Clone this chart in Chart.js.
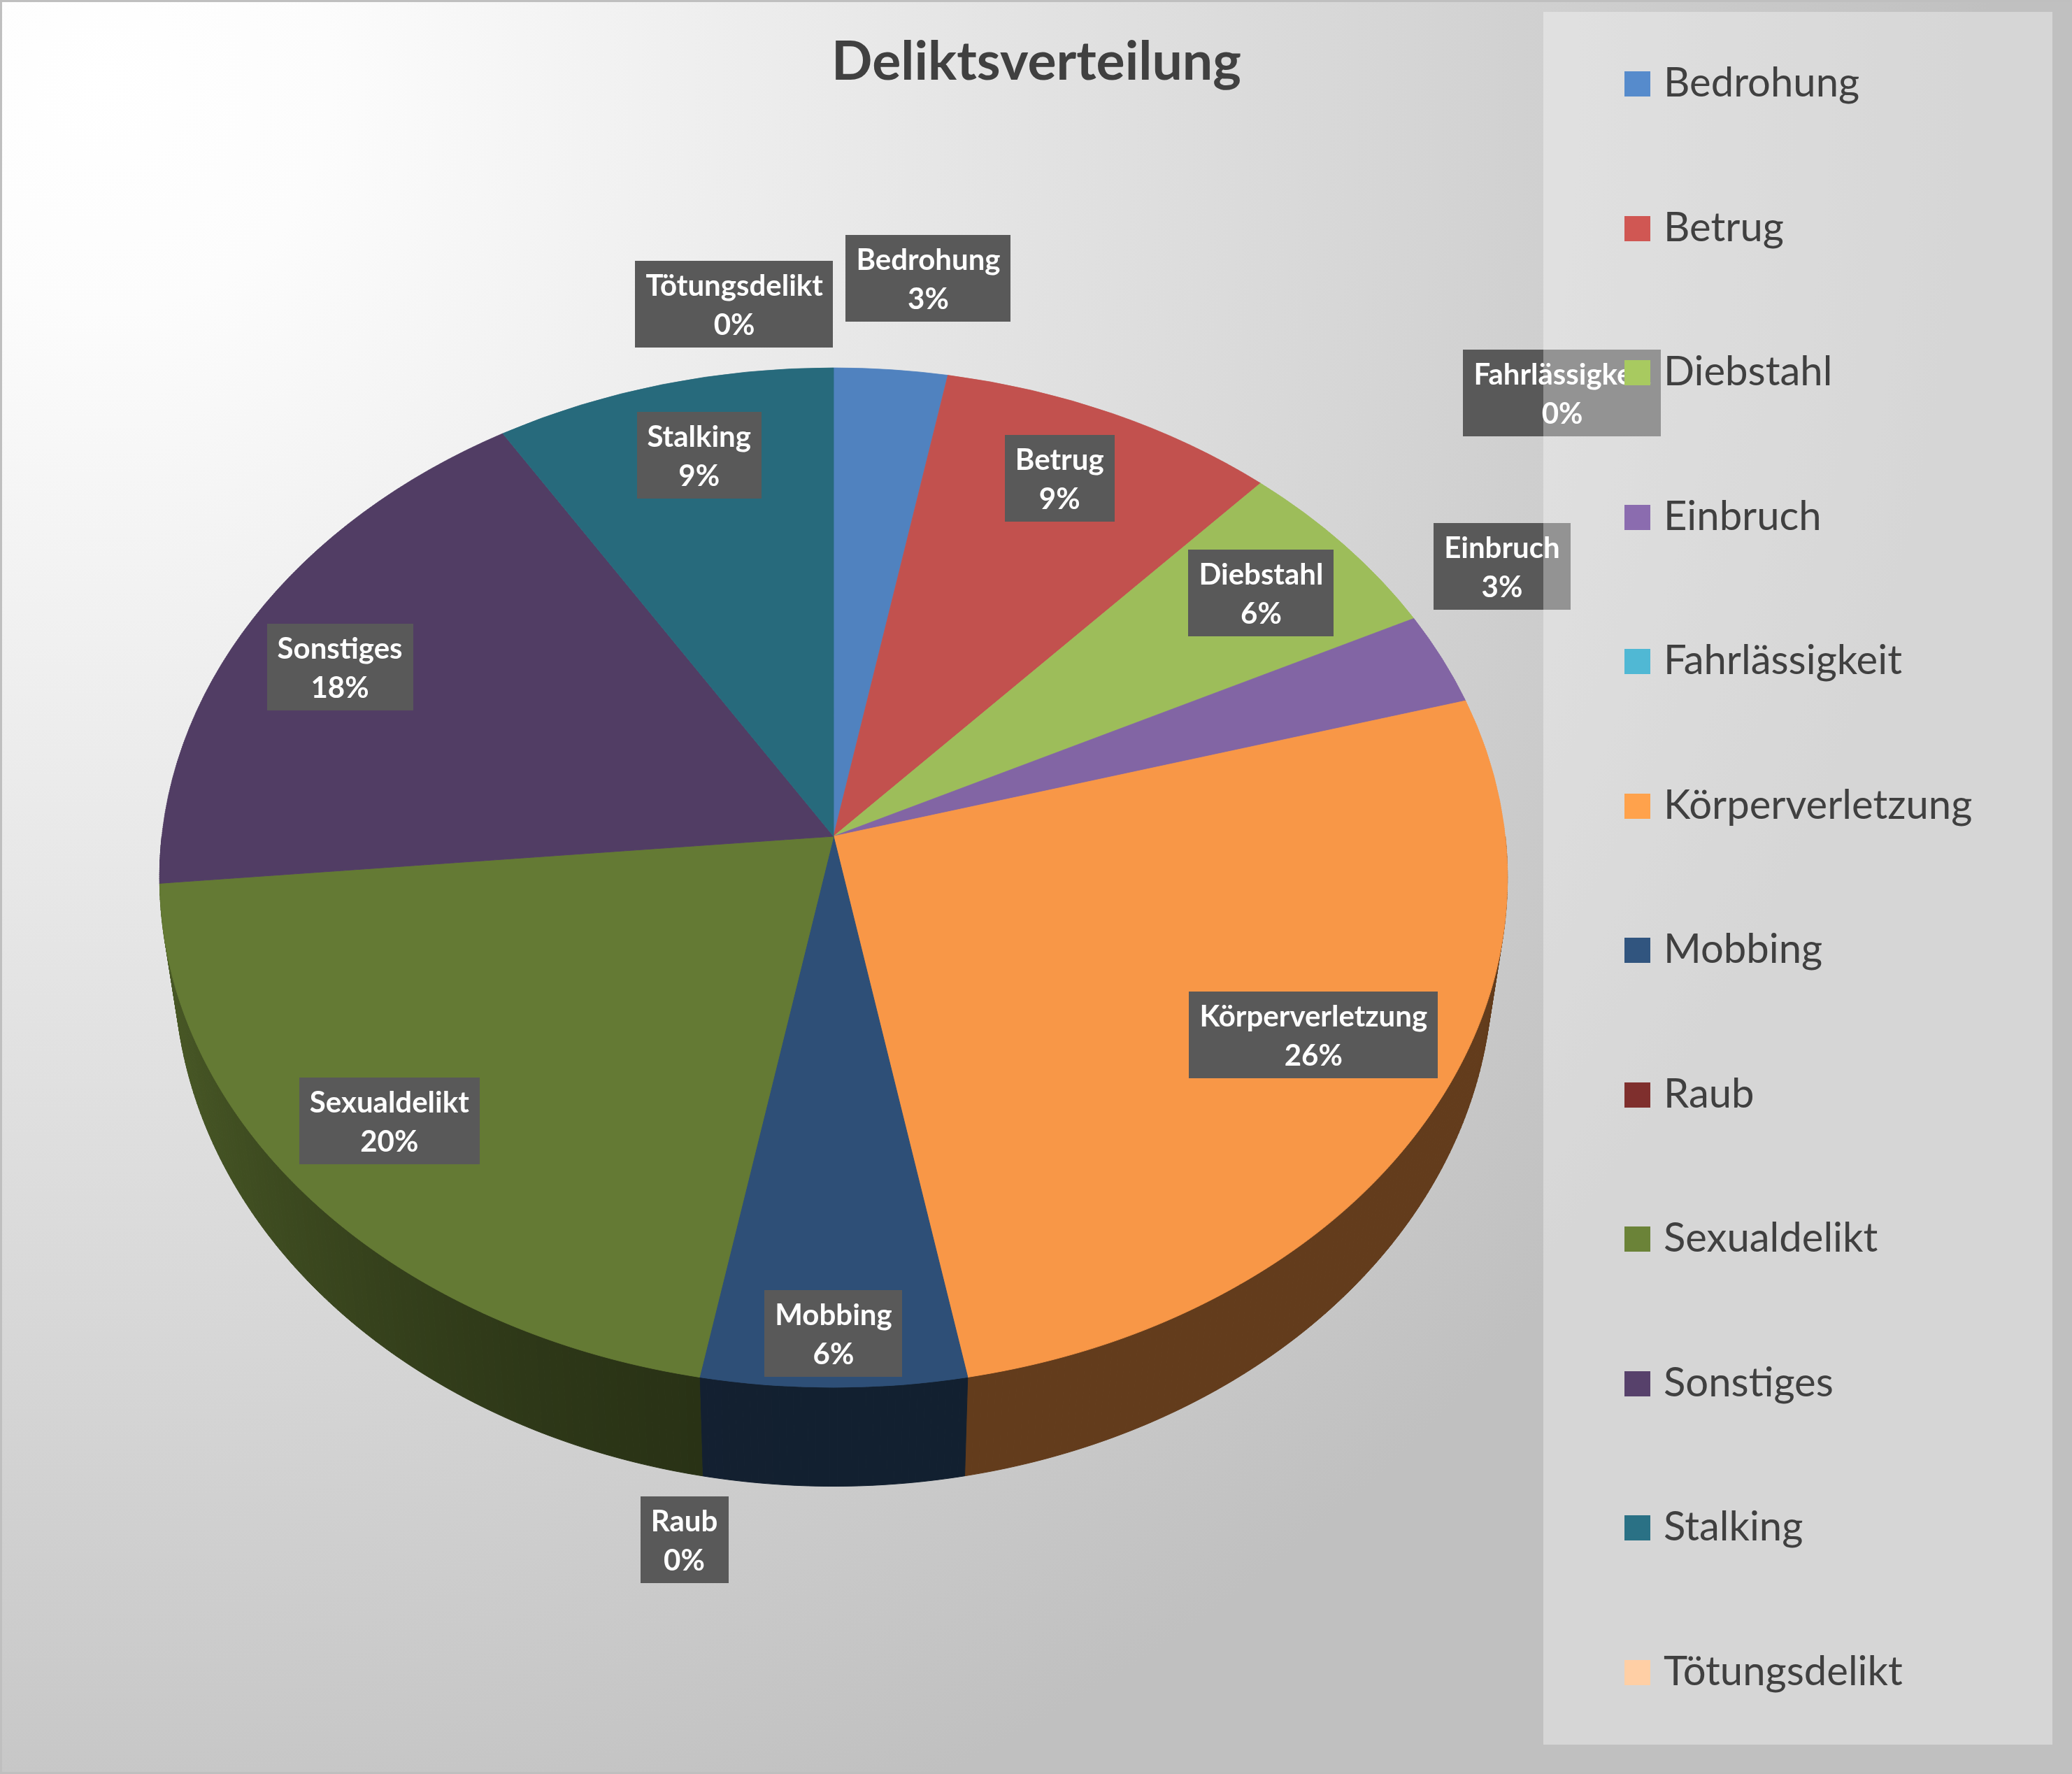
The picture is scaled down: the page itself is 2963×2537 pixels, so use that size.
<!DOCTYPE html>
<html lang="de">
<head>
<meta charset="utf-8">
<title>Deliktsverteilung</title>
<script src="https://cdn.jsdelivr.net/npm/chart.js@4.4.1/dist/chart.umd.min.js"></script>
<style>
  html, body { margin: 0; padding: 0; background: #fff; overflow: hidden; }
  canvas { display: block; }
</style>
</head>
<body>
<canvas id="chart" width="2963" height="2537"></canvas>
<script>
const chartTitle = 'Deliktsverteilung';
const categories = ['Bedrohung', 'Betrug', 'Diebstahl', 'Einbruch', 'Fahrlässigkeit', 'Körperverletzung',
    'Mobbing', 'Raub', 'Sexualdelikt', 'Sonstiges', 'Stalking', 'Tötungsdelikt'];
const counts = [1, 3, 2, 1, 0, 9, 2, 0, 7, 6, 3, 0];
const colors = ['#5082bf', '#c2514e', '#9dbd5a', '#8265a4', '#4bacc6', '#f89747',
    '#2e4f77', '#772c2a', '#647a34', '#513d64', '#276a7c', '#fbc19a'];

// label placement (Excel moves some labels so they don't overlap)
// shift = degrees along the rim, f = distance from centre (1 = rim)
const labelTweaks = {
    'Bedrohung': { shift: 2, f: 1.22 },
    'Betrug': { shift: -1 },
    'Einbruch': { shift: -7, f: 1.18 },
    'Fahrlässigkeit': { shift: -23, f: 1.5 },
    'Körperverletzung': { shift: -3, f: 0.79 },
    'Mobbing': { f: 0.91 },
    'Raub': { shift: -1.5, f: 1.265 },
    'Sexualdelikt': { shift: 2 },
    'Sonstiges': { shift: -2 },
    'Stalking': { shift: 1 },
    'Tötungsdelikt': { shift: -8, f: 1.16 }
};

const total = counts.reduce((a, b) => a + b, 0);

// Excel keeps the rounded percentages summing to 100 (largest remainder)
function roundedPercents(values) {
    const raw = values.map(v => v / total * 100);
    const res = raw.map(Math.floor);
    const missing = 100 - res.reduce((a, b) => a + b, 0);
    const order = raw.map((r, i) => [r - Math.floor(r), i]).sort((a, b) => b[0] - a[0]);
    for (let j = 0; j < missing; j++) res[order[j][1]]++;
    return res;
}
const percents = roundedPercents(counts);

// 3D look
const TILT = 0.754;      // vertical squash of the top face
const PERSP = 0.081;     // front half a bit bigger than the back half
const DEPTH = 130;       // height of the side wall
const BASE_SHRINK = 0.978;

function shade(hex, f) {
    const n = parseInt(hex.slice(1), 16);
    const c = [(n >> 16) & 255, (n >> 8) & 255, n & 255].map(v => Math.max(0, Math.min(255, Math.round(v * f))));
    return 'rgb(' + c.join(',') + ')';
}

function project(arc, u, v) {
    const k = 1 / (1 - PERSP * v);
    return { x: arc.x + arc.outerRadius * u * k, y: arc.y + arc.outerRadius * TILT * v * k };
}

function basePoint(arc, t) {
    const p = project(arc, Math.cos(t), Math.sin(t));
    const k = 1 / (1 - PERSP * Math.sin(t));
    return { x: arc.x + (p.x - arc.x) * BASE_SHRINK, y: p.y + DEPTH * k };
}

function drawSides(ctx, arcs) {
    arcs.forEach((arc, i) => {
        const a0 = Math.max(arc.startAngle, 0);
        const a1 = Math.min(arc.endAngle, Math.PI);
        if (a1 <= a0) return;
        const steps = Math.max(2, Math.ceil((a1 - a0) / 0.01));
        for (let s = 0; s < steps; s++) {
            const ta = a0 + (a1 - a0) * s / steps;
            const tb = a0 + (a1 - a0) * (s + 1) / steps;
            const light = 0.4 + 0.33 * Math.pow(Math.max(0, -Math.cos((ta + tb) / 2)), 2);
            const pa = project(arc, Math.cos(ta), Math.sin(ta));
            const pb = project(arc, Math.cos(tb), Math.sin(tb));
            const qa = basePoint(arc, ta);
            const qb = basePoint(arc, tb);
            ctx.fillStyle = ctx.strokeStyle = shade(colors[i], light);
            ctx.lineWidth = 1;
            ctx.beginPath();
            ctx.moveTo(pa.x, pa.y);
            ctx.lineTo(pb.x, pb.y);
            ctx.lineTo(qb.x, qb.y);
            ctx.lineTo(qa.x, qa.y);
            ctx.closePath();
            ctx.fill();
            ctx.stroke();
        }
    });
}

// draw the flat pie in thin horizontal strips, each with its own squash
function drawTop(ctx, chart, arcs) {
    const a = arcs[0];
    const r = a.outerRadius, ax = a.x, ay = a.y;
    const top = Math.floor(ay - r * TILT / (1 + PERSP)) - 2;
    const bottom = Math.ceil(ay + r * TILT / (1 - PERSP)) + 2;
    const toV = (Y) => { const d = (Y - ay) / (r * TILT); return d / (1 + PERSP * d); };
    const step = 3;
    for (let y0 = top; y0 < bottom; y0 += step) {
        const y1 = y0 + step;
        const v0 = toV(y0), v1 = toV(y1);
        const w = 1 / (1 - PERSP * (v0 + v1) / 2);
        const k = (y1 - y0) / (v1 - v0);
        ctx.save();
        ctx.beginPath();
        ctx.rect(0, y0, chart.width, step);
        ctx.clip();
        ctx.setTransform(w, 0, 0, k / r, ax - w * ax, y0 - k * v0 - k * ay / r);
        arcs.forEach(arc => arc.draw(ctx));
        ctx.restore();
    }
}

const backgroundPlugin = {
    id: 'background',
    beforeDraw(chart) {
        const ctx = chart.ctx;
        const g = ctx.createRadialGradient(150, 120, 0, 150, 120, 2700);
        g.addColorStop(0, '#ffffff');
        g.addColorStop(0.12, '#fcfcfc');
        g.addColorStop(1, '#c0c0c0');
        ctx.save();
        ctx.fillStyle = g;
        ctx.fillRect(0, 0, chart.width, chart.height);
        ctx.restore();
    }
};

const pie3dPlugin = {
    id: 'pie3d',
    beforeDatasetDraw(chart, args) {
        const ctx = chart.ctx;
        const arcs = args.meta.data;
        ctx.save();
        drawSides(ctx, arcs);
        drawTop(ctx, chart, arcs);
        ctx.restore();
        return false;
    }
};

const labelPlugin = {
    id: 'sliceLabels',
    afterDatasetsDraw(chart) {
        const ctx = chart.ctx;
        const arcs = chart.getDatasetMeta(0).data;
        ctx.save();
        ctx.font = 'bold 42px Lato';
        ctx.textAlign = 'center';
        ctx.textBaseline = 'alphabetic';
        arcs.forEach((arc, i) => {
            const pct = percents[i];
            const tw = labelTweaks[categories[i]] || {};
            const f = tw.f || (pct < 4 ? 1.2 : 0.83);
            const t = (arc.startAngle + arc.endAngle) / 2 + (tw.shift || 0) * Math.PI / 180;
            const p = project(arc, f * Math.cos(t), f * Math.sin(t));
            const lines = [categories[i], pct + '%'];
            const bw = Math.max(...lines.map(s => ctx.measureText(s).width)) + 30;
            const bh = 124;
            const x0 = Math.round(p.x - bw / 2), y0 = Math.round(p.y - bh / 2);
            ctx.fillStyle = '#595959';
            ctx.fillRect(x0, y0, Math.round(bw), bh);
            ctx.fillStyle = '#ffffff';
            ctx.fillText(lines[0], p.x, y0 + 50);
            ctx.fillText(lines[1], p.x, y0 + 106);
        });
        ctx.restore();
    }
};

const legendPlugin = {
    id: 'sideLegend',
    afterDraw(chart) {
        const ctx = chart.ctx;
        ctx.save();
        ctx.fillStyle = 'rgba(255,255,255,0.35)';
        ctx.fillRect(2207, 17, 728, 2478);
        ctx.font = '58px Lato';
        ctx.textAlign = 'left';
        ctx.textBaseline = 'alphabetic';
        chart.data.labels.forEach((label, i) => {
            const y = 102 + i * 206.5;
            ctx.fillStyle = shade(colors[i], 1.07);
            ctx.fillRect(2323, Math.round(y), 37, 36);
            ctx.fillStyle = '#404040';
            ctx.fillText(label, 2379, y + 36);
        });
        // title
        ctx.font = 'bold 77px Lato';
        ctx.textAlign = 'center';
        ctx.fillStyle = '#404040';
        ctx.fillText(chartTitle, 1482, 114);
        // frame
        ctx.strokeStyle = '#bfbfbf';
        ctx.lineWidth = 6;
        ctx.strokeRect(0, 0, chart.width, chart.height);
        ctx.restore();
    }
};

const chart = document.getElementById('chart');

const pie = new Chart(chart, {
    type: 'pie',
    data: {
        labels: categories,
        datasets: [{
            label: 'Delikte',
            data: counts,
            backgroundColor: colors,
            borderColor: colors,
            borderWidth: counts.map(v => v > 0 ? 1 : 0),
            hoverOffset: 0,
            offset: 0
        }]
    },
    options: {
        responsive: false,
        animation: false,
        events: [],
        layout: {
            padding: { left: 231, right: 810, top: 196, bottom: 341 }
        },
        plugins: {
            legend: { display: false },
            tooltip: { enabled: false },
            title: { display: false }
        }
    },
    plugins: [backgroundPlugin, pie3dPlugin, labelPlugin, legendPlugin]
});
</script>
</body>
</html>
